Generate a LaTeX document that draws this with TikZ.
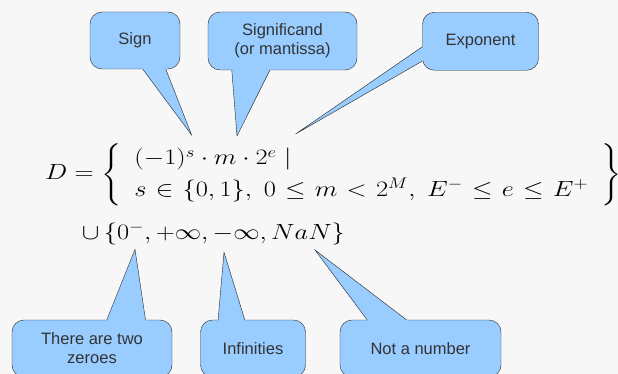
\RequirePackage{fix-cm}
\documentclass[tikz,border=0pt]{standalone}
\usepackage{amsmath}
\usepackage{graphicx}
\usepackage{fontspec}
\setmainfont{Liberation Sans}
\usetikzlibrary{positioning, calc}

\definecolor{bubblefill}{RGB}{153,204,255}
\definecolor{paper}{RGB}{247,247,247}
\definecolor{ink}{RGB}{51,51,51}

\begin{document}
\begin{tikzpicture}[
  x=1pt, y=-1pt,
  bubble/.style={draw=black!85, fill=bubblefill, rounded corners=12pt, align=center, inner sep=0pt,
    text=ink, font=\fontsize{16.5}{19}\selectfont},
  edge/.style={draw=black!85, line join=miter},
  formula/.style={inner sep=0pt, font=\fontsize{22}{26.4}\selectfont}
]
\useasboundingbox (0,0) rectangle (618,374);
\fill[paper] (0,0) rectangle (618,374);

% --- formula (wide, as on the slide) ---
\node[formula, anchor=base west] (set) at (45,180)
  {\scalebox{1.2}[1]{$D = \left\{\ \renewcommand{\arraystretch}{1.2}\begin{array}{l}
    (-1)^s\cdot m\cdot 2^e \mid\\
    \thickmuskip=6.3mu s\in\{0,1\},\ 0\le m<2^M,\ E^-\le e\le E^+
  \end{array}\hspace{6pt}\right\}$}};
\node[formula, anchor=base west] (extra) at (81.7,239)
  {\scalebox{1.2}[1]{$\cup\,\{0^-, +\infty, -\infty, NaN\}$}};

% --- bubbles above ---
\node[bubble, minimum width=90pt,  minimum height=57pt] (sign)   at (135,40.5)  {Sign};
\node[bubble, minimum width=149pt, minimum height=58pt] (signif) at (282.5,41)  {Significand\\(or mantissa)};
\node[bubble, minimum width=116pt, minimum height=58pt] (expo)   at (480.5,41.3){Exponent};

% --- bubbles below ---
\node[bubble, minimum width=160pt, minimum height=57pt] (zero) at (92,348.5)   {There are two\\zeroes};
\node[bubble, minimum width=105pt, minimum height=57pt] (inf)  at (253,348.5)  {Infinities};
\node[bubble, minimum width=161pt, minimum height=57pt] (nan)  at (420.5,348.5){Not a number};

% tail ends
\coordinate (sign-a)     at ($(sign.south west)+(53,0)$);
\coordinate (sign-b)     at ($(sign.south west)+(76,0)$);
\coordinate (sign-tip)   at (191.6,135);
\coordinate (signif-a)   at ($(signif.south west)+(24,0)$);
\coordinate (signif-b)   at ($(signif.south west)+(62,0)$);
\coordinate (signif-tip) at (237,136);
\coordinate (expo-a)     at ($(expo.north west)+(0,34.7)$);
\coordinate (expo-b)     at ($(expo.north west)+(0,49)$);
\coordinate (expo-tip)   at (295.6,134);
\coordinate (zero-a)     at ($(zero.north west)+(95,0)$);
\coordinate (zero-b)     at ($(zero.north west)+(133.7,0)$);
\coordinate (zero-tip)   at (135,249.3);
\coordinate (inf-a)      at ($(inf.north west)+(17.8,0)$);
\coordinate (inf-b)      at ($(inf.north west)+(44.5,0)$);
\coordinate (inf-tip)    at (224,252.3);
\coordinate (nan-a)      at ($(nan.north west)+(27.3,0)$);
\coordinate (nan-b)      at ($(nan.north west)+(66.7,0)$);
\coordinate (nan-tip)    at (315,250);

% --- tails ---
\foreach \bub in {sign,signif,expo,zero,inf,nan} {
  \fill[bubblefill] (\bub-tip) -- ($(\bub-tip)!1.08!(\bub-a)$) -- ($(\bub-tip)!1.08!(\bub-b)$) -- cycle;
  \draw[edge] (\bub-a) -- (\bub-tip) -- (\bub-b);
}
\end{tikzpicture}
\end{document}
